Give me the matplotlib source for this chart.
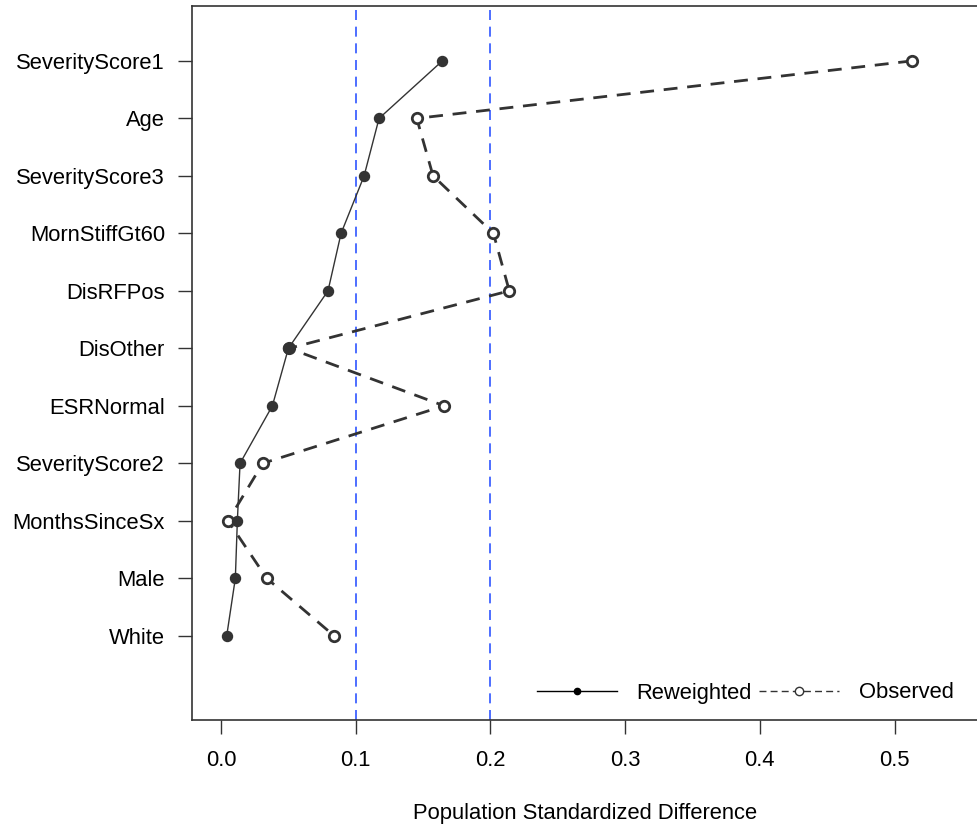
import matplotlib
matplotlib.use("Agg")
import matplotlib.pyplot as plt
from matplotlib.lines import Line2D

variables = ["SeverityScore1", "Age", "SeverityScore3", "MornStiffGt60", "DisRFPos",
             "DisOther", "ESRNormal", "SeverityScore2", "MonthsSinceSx", "Male", "White"]
reweighted = [0.1643, 0.1173, 0.1062, 0.0891, 0.0794, 0.0500, 0.0381, 0.0141, 0.0121, 0.0106, 0.0042]
observed = [0.5130, 0.1453, 0.1574, 0.2022, 0.2140, 0.0505, 0.1656, 0.0310, 0.0052, 0.0339, 0.0839]
ref_lines = [0.1, 0.2]
xticks = [0.0, 0.1, 0.2, 0.3, 0.4, 0.5]

plt.rcParams['font.family'] = ['Liberation Sans', 'DejaVu Sans']
FS = 15.8
W, H = 978, 831
fig = plt.figure(figsize=(W / 100, H / 100), dpi=100)

left_px, zero_px = 191.7, 221.0
xmin, xmax = -0.0218, 0.58
scale = 1347.0
ax_right_px = zero_px + xmax * scale
ax = fig.add_axes([left_px / W, (H - 719.7) / H, (ax_right_px - left_px) / W, (719.7 - 5.7) / H])

n = len(variables)
ypos = list(range(n, 0, -1))
col = "#333333"

for v in ref_lines:
    ax.axvline(v, color="#2f55ff", lw=1.2, ls=(0, (6, 4)), zorder=1)

ax.plot(observed, ypos, color=col, lw=2.0, ls=(0, (5, 3.5)), marker='o', ms=7.5,
        mfc='white', mec=col, mew=2.0, zorder=3)
ax.plot(reweighted, ypos, color=col, lw=1.0, marker='o', ms=7.2,
        mfc=col, mec=col, zorder=4)

ax.set_xlim(xmin, xmax)
ax.set_ylim(-0.46, 11.96)
ax.set_xticks(xticks)
ax.set_xticklabels([f"{t:.1f}" for t in xticks])
ax.set_yticks(ypos)
ax.set_yticklabels(variables)
ax.tick_params(axis='both', labelsize=FS, length=9.8, width=1.0, color=col)
ax.tick_params(axis='y', pad=9.5)
ax.tick_params(axis='x', pad=12)
for s in ax.spines.values():
    s.set_color(col)
    s.set_linewidth(1.2)

fig.text(585 / W, (H - 813) / H, "Population Standardized Difference",
         ha='center', va='center', fontsize=FS)

handles = [Line2D([], [], color='black', lw=1.0, marker='o', ms=4.5, mfc='black', mec='black'),
           Line2D([], [], color=col, lw=1.0, ls=(0, (5, 3)), marker='o', ms=6,
                  mfc='white', mec=col, mew=1.0)]
ax.legend(handles, ["Reweighted", "Observed"], ncol=2, frameon=False,
          loc='center left', bbox_to_anchor=(537 / W, (H - 693) / H),
          bbox_transform=fig.transFigure, fontsize=FS, handlelength=3.64,
          handletextpad=0.9, columnspacing=0.32, borderpad=0, borderaxespad=0)

fig.savefig("out.png", dpi=100)
